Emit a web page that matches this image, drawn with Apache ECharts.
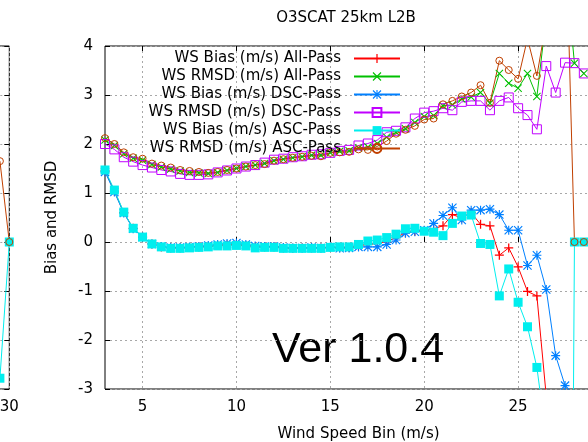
<!DOCTYPE html>
<html>
<head>
<meta charset="utf-8">
<script src="https://cdn.jsdelivr.net/npm/echarts@6/dist/echarts.min.js"></script>
<style>
  html, body { margin: 0; padding: 0; background: #fff; }
  #chart { width: 588px; height: 442px; }
</style>
</head>
<body>
<div id="chart"></div>
<script>
// Wind speed bins (m/s)
const windBins = [3, 3.5, 4, 4.5, 5, 5.5, 6, 6.5, 7, 7.5, 8, 8.5, 9, 9.5, 10, 10.5,
  11, 11.5, 12, 12.5, 13, 13.5, 14, 14.5, 15, 15.5, 16, 16.5, 17, 17.5, 18, 18.5,
  19, 19.5, 20, 20.5, 21, 21.5, 22, 22.5, 23, 23.5, 24, 24.5, 25, 25.5, 26, 26.5,
  27, 27.5, 28, 28.5];

const biasAll = [1.45, 1.04, 0.60, 0.28, 0.10, -0.04, -0.10, -0.12, -0.12, -0.11, -0.10, -0.09, -0.07, -0.06, -0.05, -0.07,
  -0.10, -0.10, -0.10, -0.12, -0.13, -0.12, -0.12, -0.12, -0.11, -0.11, -0.11, -0.08, -0.05, -0.03, 0.01, 0.09,
  0.19, 0.22, 0.23, 0.27, 0.33, 0.56, 0.49, 0.60, 0.36, 0.33, -0.27, -0.12, -0.51, -1.01, -1.10, -3.15,
  -5.2, -6.5, -7.5, -8.0];

const rmsdAll = [2.08, 1.97, 1.80, 1.71, 1.67, 1.58, 1.53, 1.49, 1.45, 1.42, 1.41, 1.40, 1.42, 1.46, 1.50, 1.54,
  1.57, 1.60, 1.66, 1.69, 1.72, 1.74, 1.77, 1.77, 1.82, 1.85, 1.86, 1.92, 1.94, 2.01, 2.14, 2.24,
  2.31, 2.44, 2.56, 2.58, 2.78, 2.80, 2.92, 2.96, 3.05, 2.83, 3.44, 3.24, 3.14, 3.44, 2.97, 4.6,
  5.0, 5.7, 3.65, 3.44];

const biasDsc = [1.43, 1.02, 0.59, 0.27, 0.10, -0.04, -0.09, -0.11, -0.11, -0.10, -0.09, -0.07, -0.05, -0.03, -0.02, -0.05,
  -0.08, -0.09, -0.09, -0.11, -0.12, -0.12, -0.11, -0.12, -0.10, -0.13, -0.12, -0.10, -0.10, -0.10, -0.05, 0.04,
  0.18, 0.21, 0.24, 0.38, 0.54, 0.70, 0.45, 0.65, 0.65, 0.67, 0.56, 0.24, 0.24, -0.48, -0.27, -0.97,
  -2.32, -2.93, -4.2, -5.0];

const rmsdDsc = [2.00, 1.89, 1.73, 1.64, 1.57, 1.52, 1.47, 1.44, 1.39, 1.37, 1.37, 1.38, 1.42, 1.46, 1.50, 1.54,
  1.57, 1.62, 1.68, 1.70, 1.73, 1.75, 1.78, 1.79, 1.82, 1.86, 1.88, 1.97, 2.01, 2.08, 2.24, 2.27,
  2.34, 2.52, 2.64, 2.67, 2.73, 2.69, 2.86, 2.88, 2.88, 2.69, 2.88, 2.95, 2.73, 2.59, 2.30, 3.59,
  3.05, 3.66, 3.65, 3.44];

const biasAsc = [1.47, 1.06, 0.61, 0.28, 0.10, -0.04, -0.10, -0.13, -0.13, -0.12, -0.11, -0.10, -0.08, -0.08, -0.07, -0.08,
  -0.12, -0.11, -0.11, -0.13, -0.13, -0.13, -0.13, -0.13, -0.11, -0.10, -0.10, -0.05, 0.02, 0.04, 0.09, 0.16,
  0.27, 0.28, 0.22, 0.20, 0.13, 0.38, 0.53, 0.55, -0.03, -0.05, -1.10, -0.55, -1.23, -1.73, -2.56, -4.0,
  -12, -30, 0, 0];

const rmsdAsc = [2.12, 2.00, 1.83, 1.73, 1.70, 1.60, 1.56, 1.52, 1.47, 1.45, 1.43, 1.41, 1.43, 1.47, 1.50, 1.54,
  1.57, 1.59, 1.66, 1.69, 1.72, 1.74, 1.76, 1.75, 1.82, 1.83, 1.84, 1.89, 1.88, 1.95, 2.06, 2.21,
  2.29, 2.37, 2.50, 2.52, 2.81, 2.88, 2.97, 3.05, 3.20, 2.84, 3.70, 3.51, 3.33, 4.15, 3.39, 4.5,
  5.5, 7.0, 0, 0];

// Neighbouring panel: last bins only
const sideBins = [29.5, 30];
const sideBiasAsc = [-2.78, 0];
const sideRmsdAsc = [1.65, 0];

const xTicks = [5, 10, 15, 20, 25, 30];

const seriesNames = [
  'WS Bias (m/s) All-Pass',
  'WS RMSD (m/s) All-Pass',
  'WS Bias (m/s) DSC-Pass',
  'WS RMSD (m/s) DSC-Pass',
  'WS Bias (m/s) ASC-Pass',
  'WS RMSD (m/s) ASC-Pass'
];

const FONT = 'DejaVu Sans';

// Stroke-like point shapes built as thin filled bars
const PLUS = 'path://M4.3,0 h1.4 v4.3 h4.3 v1.4 h-4.3 v4.3 h-1.4 v-4.3 h-4.3 v-1.4 h4.3z';
const CROSS = 'path://M0.5,-0.5 L10.5,9.5 L9.5,10.5 L-0.5,0.5 Z M9.5,-0.5 L10.5,0.5 L0.5,10.5 L-0.5,9.5 Z';
const STAR = 'path://M0.5,-0.5 L10.5,9.5 L9.5,10.5 L-0.5,0.5 Z M9.5,-0.5 L10.5,0.5 L0.5,10.5 L-0.5,9.5 Z ' +
  'M4.3,-0.5 h1.4 v4.8 h4.8 v1.4 h-4.8 v4.8 h-1.4 v-4.8 h-4.8 v-1.4 h4.8z';

function pairs(xs, ys) {
  return xs.map((x, i) => [x, ys[i]]);
}

function lineSeries(name, xs, ys, color, symbol, size, filled, xIdx, yIdx) {
  return {
    name: name,
    type: 'line',
    xAxisIndex: xIdx,
    yAxisIndex: yIdx,
    data: pairs(xs, ys),
    symbol: symbol,
    symbolSize: size,
    showSymbol: true,
    showAllSymbol: true,
    clip: true,
    lineStyle: { color: color, width: 1 },
    itemStyle: filled
      ? { color: color, borderWidth: 0 }
      : { color: 'rgba(0,0,0,0)', borderColor: color, borderWidth: 1 },
    emphasis: { disabled: true },
    z: 3
  };
}

const colors = ['#ff0000', '#00c000', '#0080ff', '#c000ff', '#00eeee', '#c04000'];

const gridLine = { show: true, lineStyle: { color: '#a8a8a8', width: 1, type: [2, 3] } };
const tickStyle = { show: true, inside: true, length: 5, lineStyle: { color: '#000', width: 1 } };
const labelStyle = { color: '#000', fontSize: 15, fontFamily: FONT };

const option = {
  animation: false,
  backgroundColor: '#fff',
  grid: [
    { left: 105, top: 46, width: 507, height: 343, show: true, borderColor: '#000', borderWidth: 1,
      backgroundColor: 'transparent', outerBoundsMode: 'none', containLabel: false },
    { left: -84.7, top: 46, width: 94, height: 343, show: true, borderColor: '#000', borderWidth: 1,
      backgroundColor: 'transparent', outerBoundsMode: 'none', containLabel: false }
  ],
  xAxis: [
    {
      gridIndex: 0, type: 'value', min: 3, max: 30,
      axisLine: { show: false },
      axisTick: Object.assign({}, tickStyle, { customValues: xTicks }),
      axisLabel: Object.assign({}, labelStyle, { margin: 11, customValues: xTicks }),
      splitLine: gridLine,
      name: 'Wind Speed Bin (m/s)', nameLocation: 'middle', nameGap: 38,
      nameTextStyle: { color: '#000', fontSize: 15, fontFamily: FONT }
    },
    {
      gridIndex: 0, type: 'value', min: 3, max: 30, position: 'top',
      axisLine: { show: false },
      axisTick: Object.assign({}, tickStyle, { customValues: xTicks }),
      axisLabel: { show: false }, splitLine: { show: false }
    },
    {
      gridIndex: 1, type: 'value', min: 25, max: 30, interval: 5,
      axisLine: { show: false },
      axisTick: tickStyle,
      axisLabel: Object.assign({}, labelStyle, { margin: 11 }),
      splitLine: gridLine
    }
  ],
  yAxis: [
    {
      gridIndex: 0, type: 'value', min: -3, max: 4, interval: 1,
      axisLine: { show: false },
      axisTick: tickStyle,
      axisLabel: Object.assign({}, labelStyle, { margin: 12 }),
      splitLine: gridLine,
      name: 'Bias and RMSD', nameLocation: 'middle', nameGap: 45, nameRotate: 90,
      nameTextStyle: { color: '#000', fontSize: 15, fontFamily: FONT }
    },
    {
      gridIndex: 1, type: 'value', min: -3, max: 4, interval: 1, position: 'right',
      axisLine: { show: false },
      axisTick: tickStyle,
      axisLabel: { show: false },
      splitLine: gridLine
    }
  ],
  legend: {
    data: seriesNames,
    orient: 'vertical',
    align: 'right',
    right: 182,
    top: 46,
    itemWidth: 46,
    itemHeight: 11,
    itemGap: 3,
    selectedMode: false,
    formatter: '{n|{name}}',
    textStyle: {
      color: '#000', fontSize: 15, fontFamily: FONT,
      rich: { n: { color: '#000', fontSize: 15, fontFamily: FONT, padding: [0, 8, 0, 0] } }
    }
  },
  graphic: [
    {
      type: 'text', x: 346, y: 18,
      style: { text: 'O3SCAT 25km L2B', font: '15px "DejaVu Sans"', fill: '#000', align: 'center', verticalAlign: 'middle' }
    },
    {
      type: 'text', x: 272, y: 350,
      style: { text: 'Ver 1.0.4', font: '43px "Liberation Sans"', fill: '#000', align: 'left', verticalAlign: 'middle' }
    }
  ],
  series: [
    lineSeries(seriesNames[0], windBins, biasAll, colors[0], PLUS, 9, true, 0, 0),
    lineSeries(seriesNames[1], windBins, rmsdAll, colors[1], CROSS, 8, true, 0, 0),
    lineSeries(seriesNames[2], windBins, biasDsc, colors[2], STAR, 9, true, 0, 0),
    lineSeries(seriesNames[3], windBins, rmsdDsc, colors[3], 'rect', 9, false, 0, 0),
    lineSeries(seriesNames[4], windBins, biasAsc, colors[4], 'rect', 9, true, 0, 0),
    lineSeries(seriesNames[5], windBins, rmsdAsc, colors[5], 'circle', 7, false, 0, 0),
    lineSeries(seriesNames[4], sideBins, sideBiasAsc, colors[4], 'rect', 9, true, 2, 1),
    lineSeries(seriesNames[5], sideBins, sideRmsdAsc, colors[5], 'circle', 7, false, 2, 1)
  ]
};

const chart = echarts.init(document.getElementById('chart'), null, { renderer: 'canvas' });
chart.setOption(option);
</script>
</body>
</html>
